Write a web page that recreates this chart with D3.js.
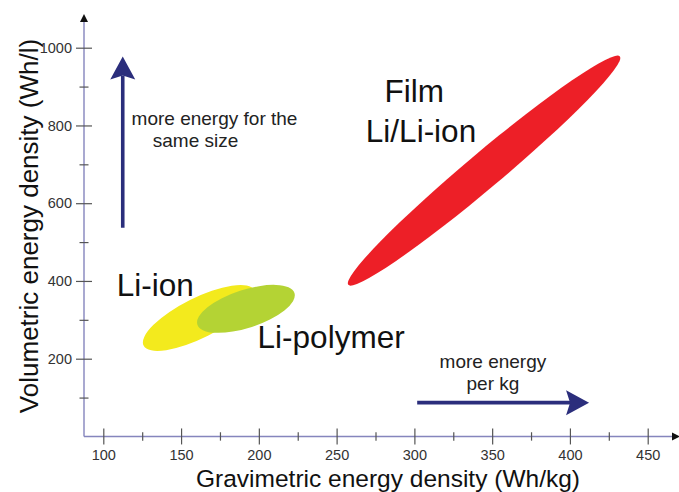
<!DOCTYPE html>
<html>
<head>
<meta charset="utf-8">
<script src="https://cdn.jsdelivr.net/npm/d3@7"></script>
<style>
  body { margin: 0; background: #fff; }
  svg { display: block; font-family: "Liberation Sans", Arial, Helvetica, sans-serif; }
  .tick text { fill: #333; font-size: 14.5px; }
  .tick line { stroke: #555; stroke-width: 1.2; }
</style>
</head>
<body>
<svg id="chart"></svg>
<script>
// Battery technologies: ranges of gravimetric (Wh/kg) and volumetric (Wh/l) energy density
const regions = ['Li-ion', 'Li-polymer', 'Film Li/Li-ion'];
const gravLow = [125.9, 160.5, 257.5];     // Wh/kg at the lower-left tip
const gravHigh = [197.1, 222.9, 432.1];    // Wh/kg at the upper-right tip
const volLow = [233.7, 287.5, 390];        // Wh/l at the lower-left tip
const volHigh = [376.3, 368.9, 977.6];     // Wh/l at the upper-right tip
const volSpread = [56.8, 51, 59];          // half vertical thickness through the centre, Wh/l
const regionColors = ['#f3ea1d', '#b4d334', '#ed1f27'];

const xMajorTicks = [100, 150, 200, 250, 300, 350, 400, 450];
const xMinorTicks = [125, 175, 225, 275, 325, 375, 425];
const yMajorTicks = [200, 400, 600, 800, 1000];
const yMinorTicks = [100, 300, 500, 700, 900];

const width = 679, height = 492;
const svg = d3.select('#chart').attr('width', width).attr('height', height);

const x = d3.scaleLinear().domain([100, 450]).range([103.3, 647.7]);
const y = d3.scaleLinear().domain([0, 1000]).range([436.45, 47.7]);

const axisColor = '#8585bd';
const arrowColor = '#2b2e7c';

// regions (drawn first so the axes sit on top)
const regionG = svg.append('g');
regions.forEach((name, i) => {
    const x1 = x(gravLow[i]), y1 = y(volLow[i]);
    const x2 = x(gravHigh[i]), y2 = y(volHigh[i]);
    const cx = (x1 + x2) / 2, cy = (y1 + y2) / 2;
    const a = Math.hypot(x2 - x1, y2 - y1) / 2;
    const theta = Math.atan2(y2 - y1, x2 - x1);
    const h = y(0) - y(volSpread[i]);
    const b = Math.abs(Math.cos(theta)) / Math.sqrt(1 / (h * h) - Math.pow(Math.sin(theta) / a, 2));
    regionG.append('ellipse')
        .attr('cx', cx).attr('cy', cy)
        .attr('rx', a).attr('ry', b)
        .attr('transform', `rotate(${theta * 180 / Math.PI},${cx},${cy})`)
        .attr('fill', regionColors[i]);
});

// axes lines with arrow heads
const x0 = 84;
svg.append('line')
    .attr('x1', x0).attr('x2', x0)
    .attr('y1', y(0)).attr('y2', 21)
    .attr('stroke', axisColor).attr('stroke-width', 1.4);
svg.append('path')
    .attr('d', `M${x0 - 4},22 L${x0},14 L${x0 + 4},22 Z`)
    .attr('fill', '#111');
svg.append('line')
    .attr('x1', x0).attr('x2', 673)
    .attr('y1', y(0)).attr('y2', y(0))
    .attr('stroke', axisColor).attr('stroke-width', 1.4);
svg.append('path')
    .attr('d', `M672,${y(0) - 4} L680,${y(0)} L672,${y(0) + 4} Z`)
    .attr('fill', '#111');

// ticks
function drawXAxis(values, half, labels) {
    const g = svg.append('g')
        .attr('transform', `translate(0,${y(0)})`)
        .call(d3.axisBottom(x).tickValues(values).tickSize(half).tickPadding(5)
            .tickFormat(labels ? d3.format('d') : ''));
    g.select('.domain').remove();
    g.selectAll('.tick line').attr('y1', -half);
    return g;
}
function drawYAxis(values, half, labels) {
    const g = svg.append('g')
        .attr('transform', `translate(${x0},0)`)
        .call(d3.axisLeft(y).tickValues(values).tickSize(half).tickPadding(4)
            .tickFormat(labels ? d3.format('d') : ''));
    g.select('.domain').remove();
    g.selectAll('.tick line').attr('x1', half);
    return g;
}
drawXAxis(xMinorTicks, 4.2, false);
drawXAxis(xMajorTicks, 8, true);
drawYAxis(yMinorTicks, 4.5, false);
drawYAxis(yMajorTicks, 8, true);
svg.selectAll('.tick text').attr('font-size', null).attr('font-family', null);

// axis titles
svg.append('text')
    .attr('x', 388).attr('y', 487)
    .attr('text-anchor', 'middle')
    .attr('font-size', 24.5).attr('fill', '#111')
    .text('Gravimetric energy density (Wh/kg)');
svg.append('text')
    .attr('transform', 'translate(38,226) rotate(-90)')
    .attr('text-anchor', 'middle')
    .attr('font-size', 26).attr('fill', '#111')
    .text('Volumetric energy density (Wh/l)');

// direction arrows
function arrow(xa, ya, xb, yb) {
    const X1 = x(xa), Y1 = y(ya), X2 = x(xb), Y2 = y(yb);
    const ang = Math.atan2(Y2 - Y1, X2 - X1);
    const len = 23, half = 12.5, notch = 4;
    const bx = X2 - len * Math.cos(ang), by = Y2 - len * Math.sin(ang);
    const nx = -Math.sin(ang), ny = Math.cos(ang);
    const mx = X2 - (len - notch) * Math.cos(ang), my = Y2 - (len - notch) * Math.sin(ang);
    svg.append('line')
        .attr('x1', X1).attr('y1', Y1).attr('x2', mx).attr('y2', my)
        .attr('stroke', arrowColor).attr('stroke-width', 3.6);
    svg.append('path')
        .attr('d', `M${X2},${Y2} L${bx + nx * half},${by + ny * half} L${mx},${my} L${bx - nx * half},${by - ny * half} Z`)
        .attr('fill', arrowColor);
}
arrow(112.5, 537, 112.5, 977.6);
arrow(301.8, 87, 412.3, 87);

// annotation texts
const notes = svg.append('g').attr('fill', '#222').attr('font-size', 19);
notes.append('text').attr('x', x(118.2)).attr('y', y(800) - 0.5).text('more energy for the');
notes.append('text').attr('x', x(131.8)).attr('y', y(745)).text('same size');
notes.append('text').attr('x', x(350.5)).attr('y', y(175)).attr('text-anchor', 'middle').text('more energy');
notes.append('text').attr('x', x(350.5)).attr('y', y(120)).attr('text-anchor', 'middle').text('per kg');

const labels = svg.append('g').attr('fill', '#111').attr('font-size', 31.5);
labels.append('text').attr('x', x(108.6)).attr('y', y(362)).text('Li-ion');
labels.append('text').attr('x', x(199.2)).attr('y', y(227.5)).text('Li-polymer');
labels.append('text').attr('x', x(280.8)).attr('y', y(860)).text('Film');
labels.append('text').attr('x', x(268.8)).attr('y', y(758)).text('Li/Li-ion');
</script>
</body>
</html>
